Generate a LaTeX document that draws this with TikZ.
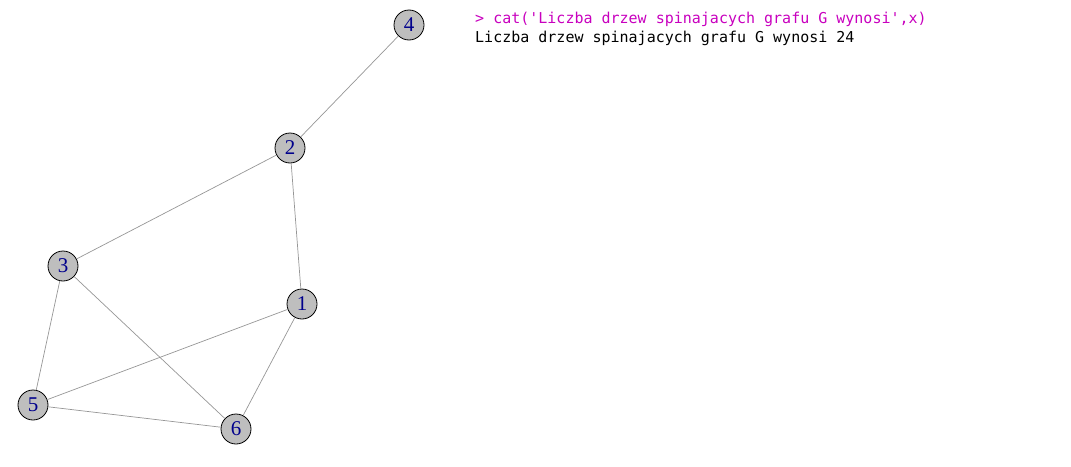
\documentclass[tikz,border=0pt]{standalone}
\usepackage{fontspec}
\setmainfont{Liberation Serif}
\setmonofont{DejaVu Sans Mono}
\definecolor{rmag}{RGB}{200,0,190}
\definecolor{vlab}{RGB}{0,0,140}
\begin{document}
\begin{tikzpicture}[x=1pt,y=-1pt,
  vert/.style={circle,draw=black,fill={rgb,255:red,190;green,190;blue,190},line width=0.8pt,minimum size=30pt,inner sep=0pt,text=vlab,font=\fontsize{21}{21}\selectfont},
  edge/.style={draw={rgb,255:red,150;green,150;blue,150},line width=0.7pt},
  cons/.style={anchor=west,inner sep=0pt,font=\ttfamily\fontsize{15}{18}\selectfont}]
\useasboundingbox (0,0) rectangle (1071,466);
\node[vert] (n4) at (409,25) {4};
\node[vert] (n2) at (290,148) {2};
\node[vert] (n3) at (63,266) {3};
\node[vert] (n1) at (302,304) {1};
\node[vert] (n5) at (33,405) {5};
\node[vert] (n6) at (236,429) {6};
\draw[edge] (n4) -- (n2);
\draw[edge] (n2) -- (n3);
\draw[edge] (n2) -- (n1);
\draw[edge] (n3) -- (n5);
\draw[edge] (n3) -- (n6);
\draw[edge] (n1) -- (n5);
\draw[edge] (n1) -- (n6);
\draw[edge] (n5) -- (n6);
\node[cons,text=rmag] (c1) at (475,19) {> cat('Liczba drzew spinajacych grafu G wynosi',x)};
\node[cons,text=black] (c2) at (475,38) {Liczba drzew spinajacych grafu G wynosi 24};
\end{tikzpicture}
\end{document}
